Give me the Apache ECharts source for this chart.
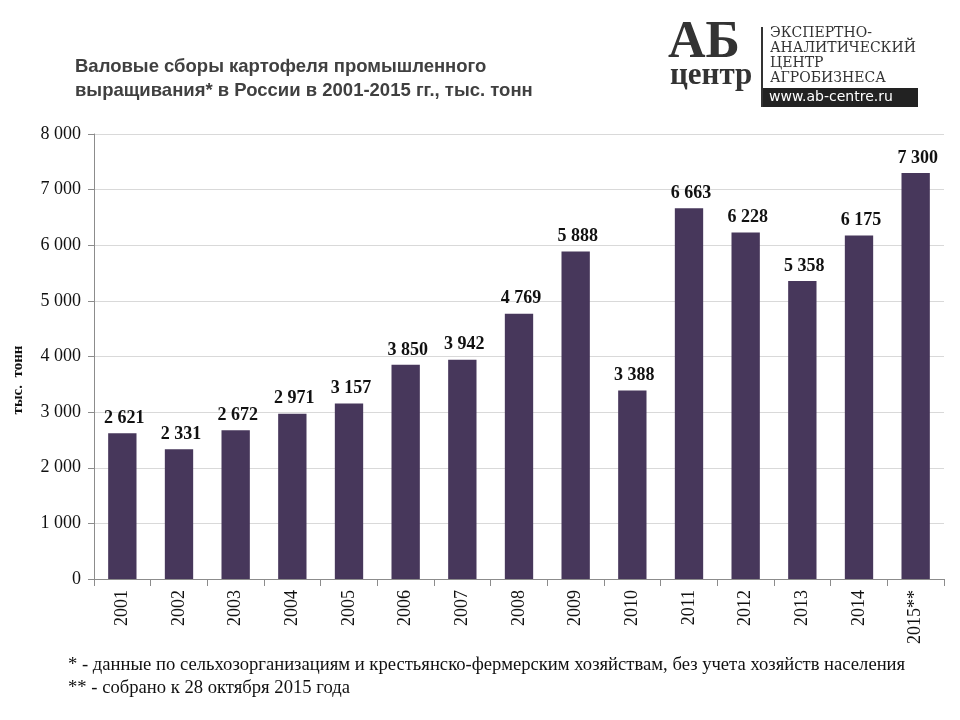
<!DOCTYPE html>
<html><head><meta charset="utf-8">
<script src="https://cdn.jsdelivr.net/npm/echarts@6/dist/echarts.min.js"></script>
<style>html,body{margin:0;padding:0;background:#fff}#c{width:960px;height:720px}</style>
</head><body><div id="c"></div>
<script>
const years = ['2001','2002','2003','2004','2005','2006','2007','2008','2009','2010','2011','2012','2013','2014','2015**'];
const harvest = [2621,2331,2672,2971,3157,3850,3942,4769,5888,3388,6663,6228,5358,6175,7300];
const yTicks = [0,1000,2000,3000,4000,5000,6000,7000,8000];
const titleLines = ['Валовые сборы картофеля промышленного','выращивания* в России в 2001-2015 гг., тыс. тонн'];
const notes = ['* - данные по сельхозорганизациям и крестьянско-фермерским хозяйствам, без учета хозяйств населения','** - собрано к 28 октября 2015 года'];
const fmt = v => String(v).replace(/\B(?=(\d{3})+(?!\d))/g, ' ');
const serif = '"Liberation Serif","DejaVu Serif",serif';
const chart = echarts.init(document.getElementById('c'));
chart.setOption({
  animation:false,
  backgroundColor:'#fff',
  grid:{left:94,right:16,top:134,bottom:141,containLabel:false},
  xAxis:{type:'category',data:years,
    axisLine:{lineStyle:{color:'#8c8c8c'}},
    axisTick:{show:true,alignWithLabel:false,length:7,lineStyle:{color:'#8c8c8c'}},
    axisLabel:{rotate:90,fontFamily:serif,fontSize:18,color:'#111',margin:11,interval:0}},
  yAxis:{type:'value',min:0,max:8000,interval:1000,
    axisLine:{show:true,lineStyle:{color:'#8c8c8c'}},
    axisTick:{show:true,length:6,lineStyle:{color:'#8c8c8c'}},
    splitLine:{lineStyle:{color:'#d9d9d9'}},
    axisLabel:{fontFamily:serif,fontSize:18,color:'#111',margin:13,formatter:v=>fmt(v)}},
  series:[{type:'bar',data:harvest,barWidth:'50%',itemStyle:{color:'#47375b'},
    label:{show:true,position:'top',distance:6,offset:[2,0],fontFamily:serif,fontSize:18,fontWeight:'bold',color:'#111',formatter:p=>fmt(p.value)}}],
  graphic:[
    {type:'text',left:75,top:55,style:{text:titleLines.join('\n'),font:'bold 18.5px "Liberation Sans",Arial,sans-serif',fill:'#404040',lineHeight:24}},
    {type:'text',x:18,y:380,rotation:Math.PI/2,style:{text:'тыс.  тонн',font:'bold 15px '+serif,fill:'#111',align:'center',verticalAlign:'middle'}},
    {type:'text',x:68,y:654,scaleX:1.035,style:{text:notes.join('\n'),font:'18px '+serif,fill:'#111',lineHeight:23}},
    {type:'text',x:668,y:18,style:{text:'АБ',font:'bold 52px '+serif,fill:'#333'}},
    {type:'text',x:670,y:60,style:{text:'центр',font:'bold 31px '+serif,fill:'#333'}},
    {type:'rect',shape:{x:761,y:27,width:2,height:80},style:{fill:'#333'}},
    {type:'text',x:770,y:26,style:{text:'ЭКСПЕРТНО-\nАНАЛИТИЧЕСКИЙ\nЦЕНТР\nАГРОБИЗНЕСА',font:'14px "DejaVu Serif",serif',fill:'#333',lineHeight:15}},
    {type:'rect',shape:{x:763,y:88,width:155,height:19},style:{fill:'#222'}},
    {type:'text',x:769,y:90,style:{text:'www.ab-centre.ru',font:'14px "DejaVu Sans",sans-serif',fill:'#fff'}}
  ]
});
</script></body></html>
